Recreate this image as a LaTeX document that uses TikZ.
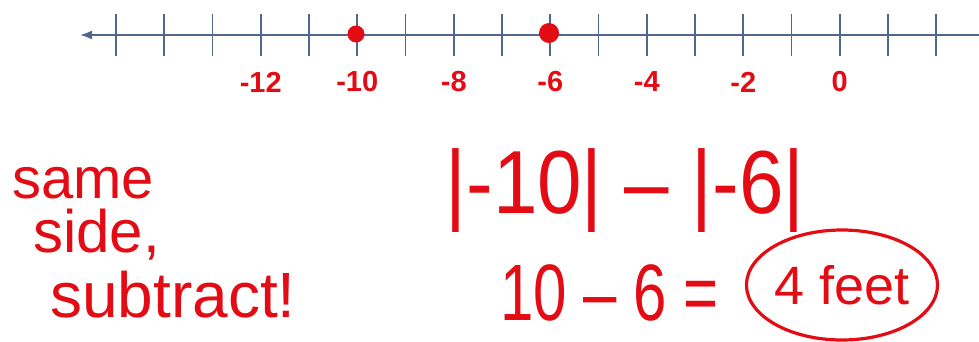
\documentclass[tikz,border=0pt]{standalone}
\usepackage{fontspec}
\setmainfont{Liberation Sans}
\usetikzlibrary{arrows.meta,shapes.geometric}
\definecolor{penred}{RGB}{228,12,20}
\definecolor{lineblue}{RGB}{78,105,140}
\tikzset{
  hand/.style={text=penred, inner sep=0pt},
  tickmark/.style={lineblue, line width=1.6pt},
  reddot/.style={circle, fill=penred, inner sep=0pt}
}
\begin{document}
\begin{tikzpicture}[x=1pt,y=1pt]
\useasboundingbox (0,0) rectangle (979,341);
% number line
\coordinate (lend) at (80,306);
\coordinate (rend) at (979,306);
\draw[lineblue, line width=1.8pt, {Latex[length=12pt,width=9pt]}-] (lend) -- (rend);
\foreach \k in {0,...,17}
  \draw[tickmark] ({116+48.25*\k},327) -- ({116+48.25*\k},285);
\foreach \v/\k in {-12/3,-10/5,-8/7,-6/9,-4/11,-2/13,0/15}
  \node[hand, font=\fontsize{29}{29}\selectfont\bfseries] (lab\k) at ({116+48.25*\k},259) {\v};
\node[reddot, minimum size=17pt] (dotA) at (356,307) {};
\node[reddot, minimum size=20pt] (dotB) at (549,308) {};
% note on the left
\node[hand, font=\fontsize{58}{58}\selectfont, anchor=base west, text depth=0pt] (same) at (12,143) {same};
\node[hand, font=\fontsize{60}{60}\selectfont, anchor=base west, text depth=0pt] (side) at (33,89) {side,};
\node[hand, font=\fontsize{64}{64}\selectfont, anchor=base west, text depth=0pt] (subtract) at (50,24) {subtract!};
% working
\node[hand, font=\fontsize{80}{80}\selectfont, anchor=base, yscale=1.12] (absdiff) at (625,128) {|-10| – |-6|};
\node[hand, font=\fontsize{80}{80}\selectfont, anchor=base west, xscale=0.75] (calc) at (500,21) {10 – 6 =};
\node[hand, ellipse, draw=penred, line width=3.2pt, minimum width=184pt, minimum height=110pt,
  font=\fontsize{54}{54}\selectfont] (answer) at (842,56) {4 feet};
\end{tikzpicture}
\end{document}
